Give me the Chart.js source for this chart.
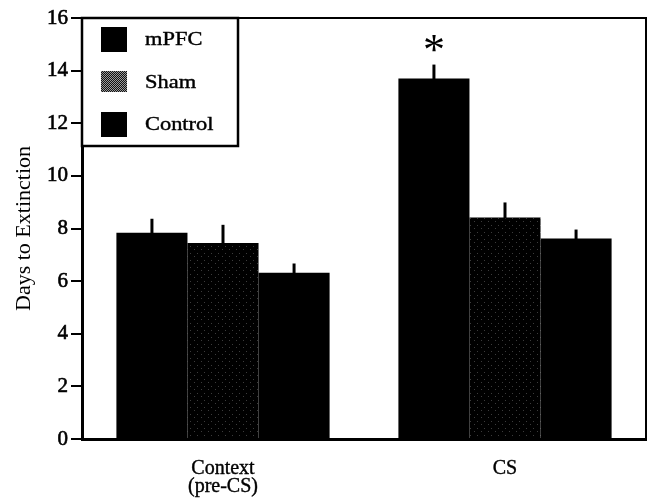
<!DOCTYPE html>
<html>
<head>
<meta charset="utf-8">
<script src="https://cdn.jsdelivr.net/npm/chart.js@4/dist/chart.umd.min.js"></script>
<style>
html,body{margin:0;padding:0;background:#fff;}
#c{display:block;}
</style>
</head>
<body>
<canvas id="c" width="654" height="499"></canvas>
<script>
// ---- data ----
const categories = [["Context", "(pre-CS)"], "CS"];
const seriesLabels = ["mPFC", "Sham", "Control"];
const mpfcMeans = [7.84, 13.70];
const mpfcSem = [0.53, 0.53];
const shamMeans = [7.45, 8.42];
const shamSem = [0.69, 0.57];
const controlMeans = [6.32, 7.62];
const controlSem = [0.35, 0.34];
const mpfcSignificance = ["", "*"];
const yTickValues = [0, 2, 4, 6, 8, 10, 12, 14, 16];
const yTitle = "Days to Extinction";

const SERIF = "'Liberation Serif', 'Times New Roman', serif";

function makePattern(size, dots, bg, fg) {
  const p = document.createElement('canvas');
  p.width = size; p.height = size;
  const g = p.getContext('2d');
  g.fillStyle = bg; g.fillRect(0, 0, size, size);
  g.fillStyle = fg;
  dots.forEach(([x, y]) => g.fillRect(x, y, 1, 1));
  return g.createPattern(p, 'repeat');
}
const shamBarPattern = makePattern(7, [[1,1],[5,4]], '#000', '#3c3c3c');
const shamLegendPattern = makePattern(2, [[0,0],[1,1]], '#111', '#9a9a9a');

const overlay = {
  id: 'overlay',
  afterDatasetsDraw(chart) {
    const ctx = chart.ctx, y = chart.scales.y;
    ctx.save();
    chart.data.datasets.forEach((ds, i) => {
      const meta = chart.getDatasetMeta(i);
      meta.data.forEach((bar, j) => {
        const top = y.getPixelForValue(ds.data[j] + ds.sem[j]);
        ctx.strokeStyle = '#000';
        ctx.lineWidth = 3;
        ctx.beginPath();
        ctx.moveTo(bar.x, bar.y + 1);
        ctx.lineTo(bar.x, top);
        ctx.stroke();
        if (ds.sig && ds.sig[j]) {
          ctx.fillStyle = '#000';
          ctx.font = '44px ' + SERIF;
          ctx.textAlign = 'center';
          ctx.textBaseline = 'alphabetic';
          ctx.fillText(ds.sig[j], bar.x, top - 1);
        }
      });
    });
    ctx.restore();
  },
  afterDraw(chart) {
    const ctx = chart.ctx, a = chart.chartArea;
    ctx.save();
    // top and right frame
    ctx.strokeStyle = '#000';
    ctx.lineWidth = 2;
    ctx.beginPath();
    ctx.moveTo(a.left, a.top);
    ctx.lineTo(a.right, a.top);
    ctx.lineTo(a.right, a.bottom);
    ctx.stroke();
    // legend box
    const bx = a.left, by = a.top, bw = 156, bh = 128;
    ctx.fillStyle = '#fff';
    ctx.fillRect(bx, by, bw, bh);
    ctx.lineWidth = 2.5;
    ctx.strokeRect(bx, by, bw, bh);
    const rows = [
      {fill: '#000', y: 27, h: 25, base: 45},
      {fill: shamLegendPattern, y: 71, h: 21, base: 88},
      {fill: '#000', y: 112, h: 25, base: 130}
    ];
    chart.data.datasets.forEach((ds, i) => {
      const r = rows[i];
      ctx.fillStyle = r.fill;
      ctx.fillRect(bx + 19, r.y, 26, r.h);
      ctx.fillStyle = '#000';
      ctx.strokeStyle = '#000';
      ctx.lineWidth = 0.4;
      ctx.font = '19px ' + SERIF;
      ctx.textAlign = 'left';
      ctx.textBaseline = 'alphabetic';
      ctx.save();
      ctx.translate(bx + 63, r.base);
      ctx.scale(1.18, 1);
      ctx.fillText(ds.label, 0, 0);
      ctx.strokeText(ds.label, 0, 0);
      ctx.restore();
    });
    ctx.restore();
  }
};

new Chart(document.getElementById('c'), {
  type: 'bar',
  data: {
    labels: categories,
    datasets: [
      {label: seriesLabels[0], data: mpfcMeans, sem: mpfcSem, sig: mpfcSignificance, backgroundColor: '#000'},
      {label: seriesLabels[1], data: shamMeans, sem: shamSem, backgroundColor: shamBarPattern},
      {label: seriesLabels[2], data: controlMeans, sem: controlSem, backgroundColor: '#000'}
    ]
  },
  options: {
    responsive: false,
    devicePixelRatio: 1,
    animation: false,
    layout: {padding: {left: 0, right: 8, top: 18, bottom: 0}},
    datasets: {bar: {categoryPercentage: 0.756, barPercentage: 1.0, borderWidth: 0}},
    plugins: {legend: {display: false}, tooltip: {enabled: false}},
    scales: {
      x: {
        grid: {display: false},
        border: {display: true, color: '#000', width: 3},
        ticks: {color: '#000', font: {family: SERIF, size: 20, lineHeight: 0.88}, padding: 13, maxRotation: 0,
                textStrokeColor: '#000', textStrokeWidth: 0.4},
        afterFit(s) { s.height = 60; }
      },
      y: {
        min: 0, max: 16,
        afterBuildTicks(s) { s.ticks = yTickValues.map(v => ({value: v})); },
        grid: {display: true, drawOnChartArea: false, drawTicks: true, tickLength: 11, color: '#000', lineWidth: 2},
        border: {display: true, color: '#000', width: 3},
        ticks: {color: '#000', font: {family: SERIF, size: 21}, padding: 3, textStrokeColor: '#000', textStrokeWidth: 0.6},
        title: {display: true, text: yTitle, color: '#000', font: {family: SERIF, size: 22}, padding: {top: 11, bottom: 0}},
        afterFit(s) { s.width = 82; }
      }
    }
  },
  plugins: [overlay]
});
</script>
</body>
</html>
